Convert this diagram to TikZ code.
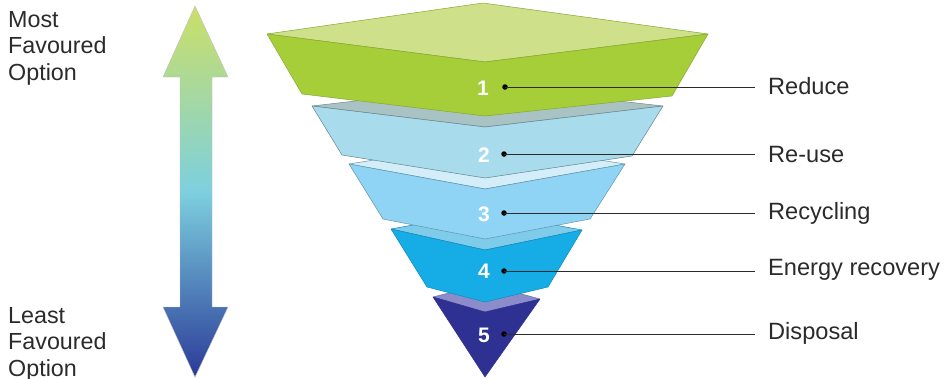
\documentclass[tikz,border=0pt]{standalone}
\usepackage{fontspec}
\setmainfont{Liberation Sans}
\definecolor{gtop}{HTML}{CFE08A}
\definecolor{gside}{HTML}{A6CE39}
\definecolor{gedge}{HTML}{86A830}
\definecolor{btop}{HTML}{A9C3C4}
\definecolor{bside}{HTML}{A8DCEC}
\definecolor{ctop}{HTML}{D3EEF8}
\definecolor{cside}{HTML}{8FD4F4}
\definecolor{dtop}{HTML}{7FCBEA}
\definecolor{dside}{HTML}{16ACE6}
\definecolor{etop}{HTML}{8C8CCB}
\definecolor{eside}{HTML}{2E3192}
\definecolor{arrtop}{HTML}{CCDF66}
\definecolor{arrmid}{HTML}{7DD0DF}
\definecolor{arrbot}{HTML}{2A3A98}
\definecolor{txt}{HTML}{2B2B2B}
\begin{document}
\begin{tikzpicture}[x=1pt,y=-1pt,
  face/.style={line width=0.5pt, line join=round},
  num/.style={text=white, font=\fontsize{21}{21}\selectfont\bfseries, inner sep=0pt},
  dot/.style={circle, fill=black, inner sep=0pt, minimum size=5.5pt},
  lab/.style={text=txt, font=\fontsize{23.6}{23.6}\selectfont, inner sep=0pt, anchor=west},
  side/.style={text=txt, font=\fontsize{23.3}{26.5}\selectfont, inner sep=0pt, align=left, anchor=north west},
  leader/.style={draw=txt, line width=1pt}]
\useasboundingbox (0,0) rectangle (945,378);
\fill[white] (0,0) rectangle (945,378);
% gradient arrow
\shade[top color=arrtop, bottom color=arrbot, middle color=arrmid, draw=gray!50, line width=0.4pt]
  (195,6) -- (228,77) -- (212,77) -- (212,307) -- (228,307) -- (195,377) -- (163,307) -- (180,307) -- (180,77) -- (163,77) -- cycle;
% layer 5
\filldraw[face, fill=etop, draw=eside!70] (433,297) -- (485,284) -- (540,299) -- (485,312) -- cycle;
\filldraw[face, fill=eside, draw=eside] (433,297) -- (485,377) -- (540,299) -- (485,312) -- cycle;
% layer 4
\filldraw[face, fill=dtop, draw=dside!80!black] (391,229) -- (485,212) -- (582,230) -- (485,250) -- cycle;
\filldraw[face, fill=dside, draw=dside!80!black] (391,229) -- (427,287) -- (485,302) -- (548,287) -- (582,230) -- (485,250) -- cycle;
% layer 3
\filldraw[face, fill=ctop, draw=cside!70!black] (349,164) -- (485,142) -- (625,164) -- (485,189) -- cycle;
\filldraw[face, fill=cside, draw=cside!70!black] (349,164) -- (383,219) -- (485,239) -- (590,219) -- (625,164) -- (485,189) -- cycle;
% layer 2
\filldraw[face, fill=btop, draw=btop!70!black] (312,106) -- (485,86) -- (663,106) -- (485,127) -- cycle;
\filldraw[face, fill=bside, draw=bside!60!black] (312,106) -- (342,155) -- (485,178) -- (632,156) -- (663,106) -- (485,127) -- cycle;
% layer 1
\filldraw[face, fill=gtop, draw=gedge] (267,34) -- (483,3) -- (708,34) -- (485,62) -- cycle;
\filldraw[face, fill=gside, draw=gedge] (267,34) -- (302,94) -- (485,116) -- (672,96) -- (708,34) -- (485,62) -- cycle;
% numbers
\node[num] (n1) at (483,88) {1};
\node[num] (n2) at (484,155) {2};
\node[num] (n3) at (484,214) {3};
\node[num] (n4) at (484,271) {4};
\node[num] (n5) at (484,335) {5};
% dots
\node[dot] (d1) at (505,87) {};
\node[dot] (d2) at (504,154) {};
\node[dot] (d3) at (504,213) {};
\node[dot] (d4) at (504,271) {};
\node[dot] (d5) at (504,334) {};
% line ends
\coordinate (e1) at (755,87);
\coordinate (e2) at (755,154);
\coordinate (e3) at (755,213);
\coordinate (e4) at (755,271);
\coordinate (e5) at (755,334);
\draw[leader] (d1.center) -- (e1);
\draw[leader] (d2.center) -- (e2);
\draw[leader] (d3.center) -- (e3);
\draw[leader] (d4.center) -- (e4);
\draw[leader] (d5.center) -- (e5);
% labels
\node[lab] (l1) at (768,86) {Reduce};
\node[lab] (l2) at (768,154) {Re-use};
\node[lab] (l3) at (768,213) {Recycling};
\node[lab] (l4) at (768,270) {Energy recovery};
\node[lab] (l5) at (768,333) {Disposal};
% side labels
\node[side] (most) at (8,11) {Most\\Favoured\\Option};
\node[side] (least) at (8,307) {Least\\Favoured\\Option};
\end{tikzpicture}
\end{document}
